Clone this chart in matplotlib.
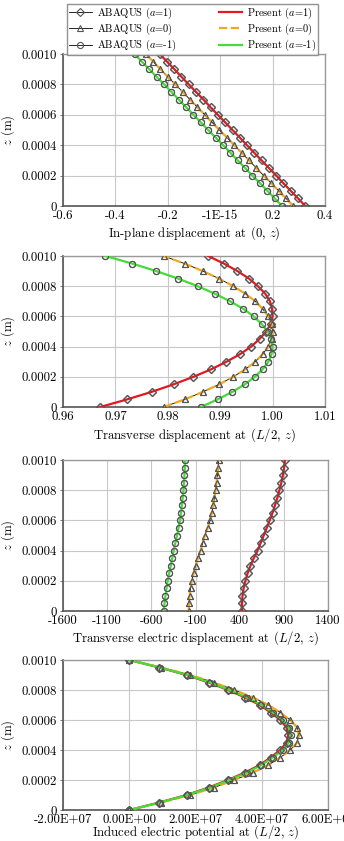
import matplotlib
matplotlib.use('Agg')
import matplotlib.pyplot as plt

plt.rcParams['font.family'] = 'cmr10'
plt.rcParams['mathtext.fontset'] = 'cm'
plt.rcParams['axes.unicode_minus'] = False
plt.rcParams['axes.formatter.use_mathtext'] = True
plt.rcParams['font.size'] = 9.2

# thickness coordinate (m)
z = [0.0, 0.00005, 0.0001, 0.00015, 0.0002, 0.00025, 0.0003, 0.00035, 0.0004, 0.00045,
     0.0005, 0.00055, 0.0006, 0.00065, 0.0007, 0.00075, 0.0008, 0.00085, 0.0009, 0.00095, 0.001]

# in-plane displacement at (0, z)
u_a1 = [0.325, 0.297, 0.269, 0.241, 0.214, 0.186, 0.158, 0.130, 0.102, 0.075, 0.047,
        0.019, -0.009, -0.037, -0.064, -0.092, -0.120, -0.148, -0.175, -0.203, -0.231]
u_a0 = [0.279, 0.251, 0.223, 0.195, 0.166, 0.138, 0.110, 0.082, 0.054, 0.026, -0.003,
        -0.031, -0.059, -0.087, -0.115, -0.143, -0.171, -0.200, -0.228, -0.256, -0.284]
u_am1 = [0.236, 0.208, 0.180, 0.152, 0.123, 0.095, 0.067, 0.039, 0.011, -0.017, -0.046,
         -0.074, -0.102, -0.130, -0.158, -0.186, -0.214, -0.243, -0.271, -0.299, -0.327]

# transverse displacement at (L/2, z)
w_a1 = [0.9671, 0.9722, 0.9769, 0.9811, 0.9849, 0.9883, 0.9912, 0.9938, 0.9959, 0.9975, 0.9988,
        0.9996, 1.0000, 0.9999, 0.9995, 0.9986, 0.9972, 0.9955, 0.9933, 0.9907, 0.9877]
w_a0 = [0.9792, 0.9832, 0.9867, 0.9898, 0.9925, 0.9948, 0.9967, 0.9981, 0.9992, 0.9998, 1.0000,
        0.9998, 0.9992, 0.9981, 0.9967, 0.9948, 0.9925, 0.9898, 0.9867, 0.9832, 0.9792]
w_am1 = [0.9863, 0.9895, 0.9923, 0.9947, 0.9966, 0.9981, 0.9992, 0.9998, 1.0000, 0.9997, 0.9991,
         0.9979, 0.9964, 0.9944, 0.9919, 0.9890, 0.9857, 0.9820, 0.9778, 0.9732, 0.9681]

# transverse electric displacement at (L/2, z)
d_a1 = [425, 427, 432, 445, 465, 490, 522, 560, 602, 637, 672,
        706, 740, 772, 800, 827, 850, 872, 890, 903, 912]
d_a0 = [-178, -174, -167, -156, -142, -122, -100, -72, -42, -18, 5,
        37, 67, 85, 100, 114, 127, 138, 148, 156, 162]
d_am1 = [-460, -451, -440, -428, -415, -398, -380, -363, -347, -328, -310,
         -292, -274, -264, -255, -245, -236, -230, -225, -221, -217]

# induced electric potential at (L/2, z)
p_a1 = [0, 0.91e7, 1.73e7, 2.40e7, 2.98e7, 3.50e7, 3.94e7, 4.27e7, 4.56e7, 4.75e7, 4.80e7,
        4.75e7, 4.56e7, 4.27e7, 3.94e7, 3.50e7, 2.98e7, 2.40e7, 1.73e7, 0.91e7, 0]
p_a0 = [0, 0.97e7, 1.84e7, 2.56e7, 3.17e7, 3.74e7, 4.20e7, 4.56e7, 4.86e7, 5.07e7, 5.12e7,
        5.07e7, 4.86e7, 4.56e7, 4.20e7, 3.74e7, 3.17e7, 2.56e7, 1.84e7, 0.97e7, 0]
p_am1 = [0, 0.93e7, 1.75e7, 2.44e7, 3.02e7, 3.56e7, 3.99e7, 4.33e7, 4.63e7, 4.82e7, 4.87e7,
         4.82e7, 4.63e7, 4.33e7, 3.99e7, 3.56e7, 3.02e7, 2.44e7, 1.75e7, 0.93e7, 0]

yticks = [0, 0.0002, 0.0004, 0.0006, 0.0008, 0.001]
ytick_labels = ['0', '0.0002', '0.0004', '0.0006', '0.0008', '0.0010']

panels = [
    dict(data=(u_a1, u_a0, u_am1), xlim=(-0.6, 0.4),
         xticks=[-0.6, -0.4, -0.2, 0, 0.2, 0.4],
         xlabels=['-0.6', '-0.4', '-0.2', '-1E-15', '0.2', '0.4'],
         title='In-plane displacement at $(0,\\,z)$'),
    dict(data=(w_a1, w_a0, w_am1), xlim=(0.96, 1.01),
         xticks=[0.96, 0.97, 0.98, 0.99, 1.00, 1.01],
         xlabels=['0.96', '0.97', '0.98', '0.99', '1.00', '1.01'],
         title='Transverse displacement at $(L/2,\\,z)$'),
    dict(data=(d_a1, d_a0, d_am1), xlim=(-1600, 1400),
         xticks=[-1600, -1100, -600, -100, 400, 900, 1400],
         xlabels=['-1600', '-1100', '-600', '-100', '400', '900', '1400'],
         title='Transverse electric displacement at $(L/2,\\,z)$'),
    dict(data=(p_a1, p_a0, p_am1), xlim=(-2e7, 6e7),
         xticks=[-2e7, 0, 2e7, 4e7, 6e7],
         xlabels=['-2.00E+07', '0.00E+00', '2.00E+07', '4.00E+07', '6.00E+07'],
         title='Induced electric potential at $(L/2,\\,z)$'),
]

# axes boxes in pixels: left, top, right, bottom, and x-label centre line
boxes = [(63, 54, 325, 206, 233), (63, 256, 325, 407, 435),
         (63, 460, 328, 611, 638), (63, 660, 328, 810, 832)]

W, H = 344, 841
fig = plt.figure(figsize=(W / 100, H / 100), dpi=100)

markers = ['D', '^', 'o']
msizes = [3.6, 4.4, 4.4]
colors = ['#e8161e', '#f2a91f', '#45dc3a']
styles = ['-', '--', '-']
ab_labels = ['ABAQUS ($a$=1)', 'ABAQUS ($a$=0)', 'ABAQUS ($a$=-1)']
pr_labels = ['Present ($a$=1)', 'Present ($a$=0)', 'Present ($a$=-1)']

handles_ab = []
handles_pr = []
for n, (p, b) in enumerate(zip(panels, boxes)):
    l, t, r, bt, lab_y = b
    ax = fig.add_axes([l / W, 1 - bt / H, (r - l) / W, (bt - t) / H])
    for k in range(3):
        vals = p['data'][k]
        h1, = ax.plot(vals, z, color='black', lw=0.6, marker=markers[k], ms=msizes[k],
                      mfc='none', mec='#555555', mew=0.8, zorder=2, label=ab_labels[k])
        h2, = ax.plot(vals, z, color=colors[k], lw=1.6, ls=styles[k], zorder=3,
                      label=pr_labels[k])
        ax.plot(vals, z, ls='none', marker=markers[k], ms=msizes[k], mfc='none',
                mec='#555555', mew=0.8, zorder=4)
        if n == 0:
            handles_ab.append(h1)
            handles_pr.append(h2)
    ax.set_xlim(*p['xlim'])
    ax.set_ylim(0, 0.001)
    ax.set_xticks(p['xticks'])
    ax.set_xticklabels(p['xlabels'])
    ax.set_yticks(yticks)
    ax.set_yticklabels(ytick_labels)
    ax.grid(True, color='#c8c8c8', lw=0.8)
    ax.set_axisbelow(True)
    for s in ['top', 'right']:
        ax.spines[s].set_color('#9a9a9a')
        ax.spines[s].set_linewidth(1.0)
    for s in ['left', 'bottom']:
        ax.spines[s].set_color('#555555')
        ax.spines[s].set_linewidth(1.2)
    ax.tick_params(length=2.5, width=0.7, color='#777777', pad=2)
    ax.tick_params(axis='x', length=0, pad=2.5)
    ax.set_xlabel(p['title'], va='center')
    ax.xaxis.set_label_coords(0.5, -(lab_y - bt) / (bt - t))
    ax.set_ylabel('$z$ (m)')
    ax.yaxis.set_label_coords((17 - l) / (r - l), 0.5)

leg = fig.legend(handles_ab + handles_pr, ab_labels + pr_labels, ncol=2,
                 loc='center', bbox_to_anchor=(62 / W, 1 - 51 / H, 261 / W, 43 / H),
                 mode='expand', frameon=True, fancybox=False, handlelength=2.2,
                 handletextpad=0.5, labelspacing=0.1, borderpad=0.15, columnspacing=1.5,
                 fontsize=7.5, numpoints=1)
leg.get_frame().set_edgecolor('#777777')
leg.get_frame().set_linewidth(1.0)

fig.savefig('out.png', dpi=100)
